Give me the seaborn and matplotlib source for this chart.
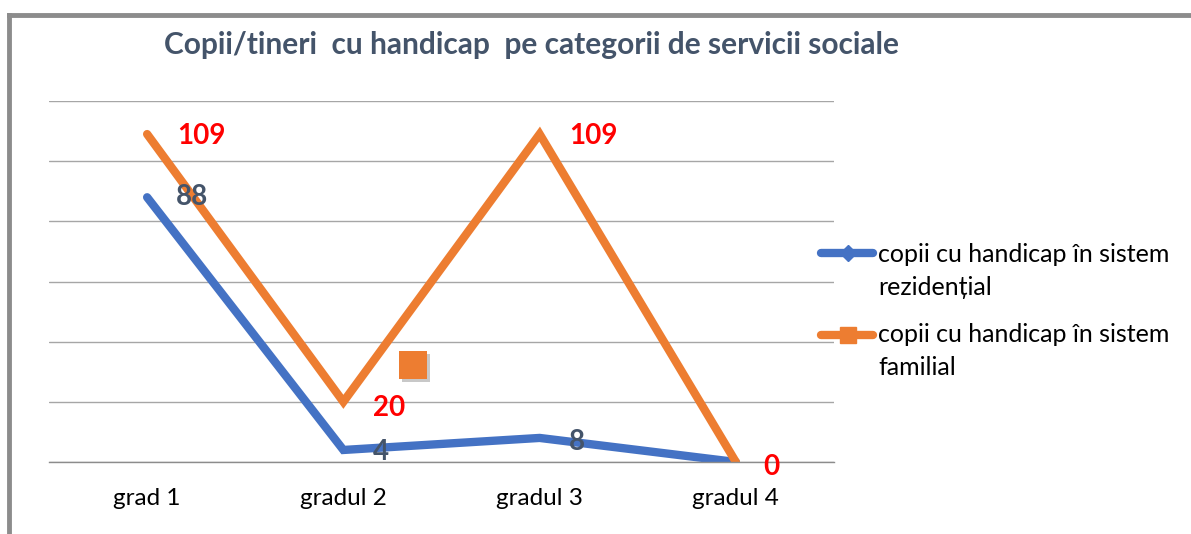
import matplotlib
matplotlib.use("Agg")
import matplotlib.pyplot as plt
from matplotlib.lines import Line2D
from matplotlib.patches import Rectangle
import matplotlib.patheffects as pe
import seaborn as sns
import pandas as pd

categories = ["grad 1", "gradul 2", "gradul 3", "gradul 4"]
rezidential = [88, 4, 8, 0]
familial = [109, 20, 109, 0]
series_names = ["copii cu handicap în sistem\nrezidențial",
                "copii cu handicap în sistem\nfamilial"]
title = "Copii/tineri  cu handicap  pe categorii de servicii sociale"

BLUE = "#4472C4"
ORANGE = "#ED7D31"
DARK = "#44546A"
RED = "#FF0000"

sns.set_theme(style="white")
plt.rcParams["font.family"] = ["Lato", "DejaVu Sans"]

df = pd.DataFrame({
    "cat": list(range(len(categories))) * 2,
    "val": rezidential + familial,
    "serie": [series_names[0]] * 4 + [series_names[1]] * 4,
})

W, H = 1191, 534
fig = plt.figure(figsize=(W / 100, H / 100), dpi=100)
ax = fig.add_axes([49/W, 1-462/H, (834-49)/W, (462-101)/H])

sns.lineplot(data=df, x="cat", y="val", hue="serie",
             palette=[BLUE, ORANGE], linewidth=6, ax=ax, legend=False, sort=False)
for ln in ax.lines:
    ln.set_solid_capstyle("round")
    ln.set_solid_joinstyle("miter")

ax.set_xlim(-0.5, 3.5)
ax.set_ylim(0, 120)
ax.set_yticks(range(0, 121, 20))
ax.set_yticklabels([])
ax.set_xticks(range(len(categories)))
ax.set_xticklabels(categories, fontsize=17.5, color="black")
ax.tick_params(axis="x", length=0, pad=18.5)
ax.tick_params(axis="y", length=0)
ax.grid(axis="y", color="#A6A6A6", linewidth=1)
for s in ["top", "right", "left"]:
    ax.spines[s].set_visible(False)
ax.spines["bottom"].set_color("#8C8C8C")
ax.spines["bottom"].set_linewidth(1)
ax.set_xlabel("")
ax.set_ylabel("")
ax.set_axisbelow(True)

# data labels
lab_kw = dict(fontsize=20, fontweight="bold", ha="center", va="center")
off_fam = [(0.276, -0.5), (0.235, -2), (0.276, -0.5), (0.18, -1.7)]
for i, v in enumerate(familial):
    dx, dy = off_fam[i]
    ax.text(i + dx, v + dy, str(v), color=RED, **lab_kw)
off_rez = [(0.23, 0), (0.19, -0.8), (0.19, -1.3), (None, None)]
for i, v in enumerate(rezidential):
    dx, dy = off_rez[i]
    if dx is None:
        continue
    ax.text(i + dx, v + dy, str(v), color=DARK, **lab_kw)

# stray legend key square (artifact in reference)
sq = Rectangle((399/W, 1-379/H), 28/W, 28/H, transform=fig.transFigure,
               facecolor=ORANGE, edgecolor="none",
               path_effects=[pe.SimplePatchShadow(offset=(2, -2), shadow_rgbFace="#777777",
                                                  alpha=0.4), pe.Normal()])
fig.patches.append(sq)

# title
fig.text(531/W, 1-45/H, title, fontsize=21.5, fontweight="bold",
         color=DARK, ha="center", va="center")

# legend (manual, handle aligned with first text line)
leg_entries = [(BLUE, "D", 8, 253, (262, 295)), (ORANGE, "s", 11, 335, (342, 375))]
for (col, mk, ms, yy, bases), name in zip(leg_entries, series_names):
    yf = 1 - yy / H
    fig.add_artist(Line2D([821/W, 873/W], [yf, yf], transform=fig.transFigure,
                          color=col, linewidth=6, solid_capstyle="round"))
    fig.add_artist(Line2D([848/W], [yf], transform=fig.transFigure,
                          color=col, marker=mk, markersize=ms, linestyle="none"))
    for line_txt, b in zip(name.split("\n"), bases):
        fig.text(878/W, 1 - b / H, line_txt, fontsize=18, color="black",
                 ha="left", va="baseline")

# border
fig.add_artist(Line2D([9/W, 9/W], [0, 1-15/H], transform=fig.transFigure,
                      color="#8C8C8C", linewidth=3.5, solid_capstyle="projecting"))
fig.add_artist(Line2D([9/W, 1], [1-15/H, 1-15/H], transform=fig.transFigure,
                      color="#8C8C8C", linewidth=3.5, solid_capstyle="projecting"))

fig.savefig("out.png", dpi=100)
